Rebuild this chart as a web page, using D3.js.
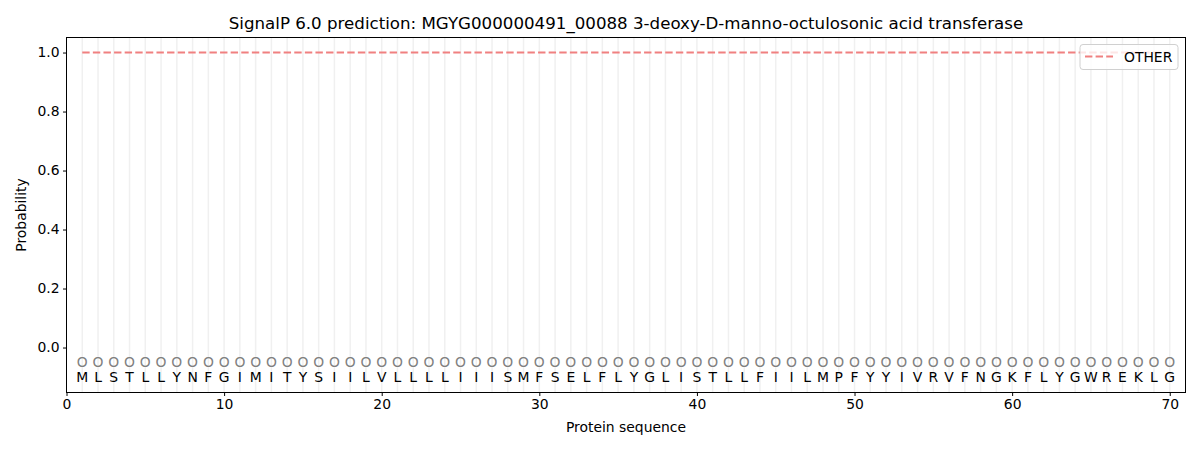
<!DOCTYPE html>
<html><head><meta charset="utf-8">
<script src="https://cdn.jsdelivr.net/npm/d3@7/dist/d3.min.js"></script>
<style>body{margin:0;background:#fff}svg{font-family:"DejaVu Sans",sans-serif}</style>
</head><body><svg id="c" width="1200" height="450"></svg>
<script>
const residues = "MLSTLLYNFGIMITYSIILVLLLLIIISMFSELFLYGLISTLLFIILMPFYYIVRVFNGKFLYGWREKLG".split("");
const positions = residues.map((d,i)=>i+1);
const otherProb = residues.map(()=>1.0);
const xTicks = [0,10,20,30,40,50,60,70];
const yTicks = [0.0,0.2,0.4,0.6,0.8,1.0];
const title = "SignalP 6.0 prediction: MGYG000000491_00088 3-deoxy-D-manno-octulosonic acid transferase";

const svg = d3.select("#c");
const m = {l:66.5, r:1185.5, t:37.5, b:392.5};
const x = d3.scaleLinear().domain([0,71]).range([m.l,m.r]);
const y = d3.scaleLinear().domain([-0.1525,1.051]).range([m.b,m.t]);
const fs = 13.9;

svg.append("g").selectAll("line").data(positions).join("line")
  .attr("x1",d=>x(d)).attr("x2",d=>x(d)).attr("y1",m.t).attr("y2",m.b)
  .attr("stroke","#f0f0f0").attr("stroke-width",1.5);

const line = d3.line().x((d,i)=>x(positions[i])).y(d=>y(d));
svg.append("path").datum(otherProb).attr("d",line).attr("fill","none")
  .attr("stroke","#f08080").attr("stroke-width",2).attr("stroke-dasharray","7.4,3.2");

svg.append("g").selectAll("text").data(positions).join("text")
  .attr("x",d=>x(d)).attr("y",y(-0.05)).attr("dy","0.36em").attr("text-anchor","middle")
  .attr("font-size",fs).attr("fill","#808080").text("O");
svg.append("g").selectAll("text").data(residues).join("text")
  .attr("x",(d,i)=>x(positions[i])).attr("y",y(-0.1)).attr("dy","0.36em").attr("text-anchor","middle")
  .attr("font-size",fs).attr("fill","#000").text(d=>d);

const xa = svg.append("g").attr("transform",`translate(0,${m.b})`)
  .call(d3.axisBottom(x).tickValues(xTicks).tickSize(3.5).tickPadding(3.5).tickFormat(d3.format("d")));
const ya = svg.append("g").attr("transform",`translate(${m.l},0)`)
  .call(d3.axisLeft(y).tickValues(yTicks).tickSize(3.5).tickPadding(3.5).tickFormat(d3.format(".1f")));
[xa,ya].forEach(a=>{a.selectAll("text").attr("font-size",fs).attr("fill","#000").attr("font-family","DejaVu Sans");
  a.selectAll("line").attr("stroke","#000"); a.select(".domain").remove();});
svg.append("rect").attr("x",m.l).attr("y",m.t).attr("width",m.r-m.l).attr("height",m.b-m.t)
  .attr("fill","none").attr("stroke","#000").attr("stroke-width",1);

svg.append("text").attr("x",(m.l+m.r)/2).attr("y",29).attr("text-anchor","middle").attr("font-size",16.67).text(title);
svg.append("text").attr("x",(m.l+m.r)/2).attr("y",432).attr("text-anchor","middle").attr("font-size",fs).text("Protein sequence");
svg.append("text").attr("transform",`translate(26,${(m.t+m.b)/2}) rotate(-90)`).attr("text-anchor","middle").attr("font-size",fs).text("Probability");

const lg = svg.append("g");
lg.append("rect").attr("x",1080).attr("y",44.5).attr("width",98).attr("height",25).attr("rx",3)
  .attr("fill","#fff").attr("fill-opacity",0.8).attr("stroke","#d0d0d0");
lg.append("line").attr("x1",1085).attr("x2",1113).attr("y1",56.5).attr("y2",56.5)
  .attr("stroke","#f08080").attr("stroke-width",2).attr("stroke-dasharray","7.4,3.2");
lg.append("text").attr("x",1124).attr("y",56.5).attr("dy","0.36em").attr("font-size",fs).text("OTHER");
</script></body></html>
